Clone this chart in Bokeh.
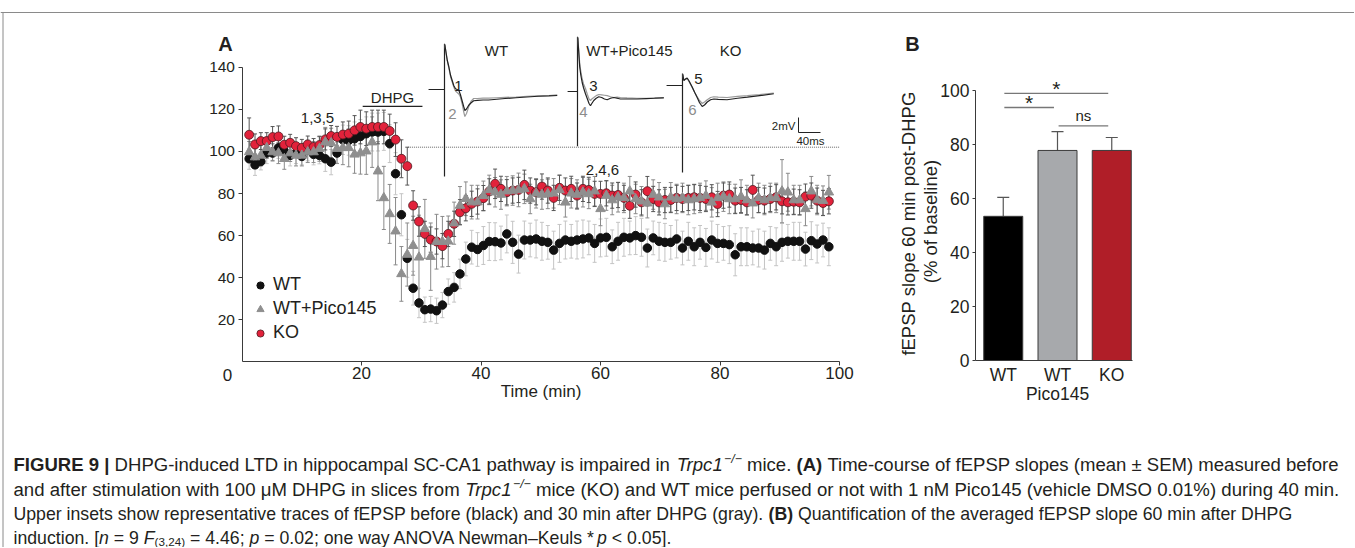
import numpy as np
from bokeh.plotting import figure
from bokeh.models import (Range1d, LinearAxis, FixedTicker, ColumnDataSource,
                          Whisker, TeeHead, Legend, LegendItem)
from bokeh.core.properties import value
from bokeh.embed import file_html
from bokeh.resources import INLINE

# ---------------- Panel A data: fEPSP slope (% of baseline) ----------------
time_min = [round(1.2 + 0.98 * i, 2) for i in range(100)]

wt_mean = [96.5, 93.6, 95.2, 99.2, 99.2, 101.7, 100.1, 98.1, 99.2, 97.6,
           100.5, 98.6, 98.1, 96.5, 94.9, 99.2, 105.5, 105.2, 106.0, 107.1,
           108.4, 109.2, 109.2, 109.5, 103.7, 89.4, 69.9, 49.2, 35.0, 28.0,
           24.8, 25.1, 24.3, 27.0, 33.4, 35.4, 41.8, 48.9, 54.5, 53.4,
           55.3, 57.2, 57.1, 56.5, 60.8, 56.8, 51.2, 57.9, 57.9, 58.4,
           57.3, 56.8, 53.1, 56.3, 57.9, 57.3, 57.9, 58.4, 58.9, 56.3,
           58.9, 59.2, 54.7, 57.3, 59.2, 58.9, 60.0, 59.2, 54.1, 58.9,
           57.3, 56.8, 56.8, 58.4, 54.1, 57.3, 54.7, 56.8, 54.4, 57.9,
           56.3, 56.3, 55.7, 50.9, 54.7, 54.7, 54.1, 54.1, 53.1, 56.3,
           54.7, 56.8, 57.3, 57.3, 57.3, 53.6, 57.6, 56.0, 57.9, 54.7]
wt_sem = [5, 5, 4, 5, 4, 5, 4, 5, 5, 4,
          5, 5, 4, 6, 6, 5, 7, 7, 8, 8,
          8, 9, 9, 9, 9, 10, 10, 9, 8, 7,
          6, 6, 6, 6, 6, 7, 7, 8, 8, 8,
          9, 9, 9, 8, 9, 10, 9, 9, 8, 9,
          9, 8, 9, 9, 9, 8, 9, 9, 8, 9,
          9, 9, 8, 9, 9, 8, 9, 9, 9, 8,
          9, 9, 8, 9, 8, 9, 9, 8, 9, 9,
          9, 8, 9, 10, 9, 9, 8, 9, 9, 8,
          9, 9, 8, 9, 9, 8, 9, 9, 8, 9]

pico_mean = [99.7, 97.3, 98.1, 101.7, 99.7, 99.2, 96.5, 99.2, 98.1, 98.1,
             99.7, 99.7, 101.3, 104.4, 104.0, 101.3, 101.7, 101.7, 98.6, 99.2,
             100.1, 104.4, 90.6, 77.9, 70.3, 62.1, 41.8, 51.0, 55.2, 49.7,
             63.2, 50.0, 57.1, 57.1, 57.3, 65.9, 74.3, 77.5, 75.9, 75.9,
             78.9, 81.7, 80.6, 79.5, 81.1, 81.4, 81.7, 82.2, 77.4, 80.1,
             79.5, 79.8, 80.1, 81.7, 75.8, 80.1, 79.5, 80.6, 79.8, 81.1,
             72.7, 79.0, 76.9, 78.2, 77.9, 81.1, 77.4, 76.3, 75.4, 79.5,
             78.2, 75.0, 78.2, 77.4, 77.9, 76.9, 77.4, 77.9, 79.0, 75.8,
             77.9, 78.5, 77.4, 77.4, 78.5, 76.9, 75.4, 77.9, 76.9, 77.9,
             77.9, 81.1, 80.6, 76.9, 76.9, 72.7, 81.1, 76.9, 76.6, 80.6]
pico_sem = [5, 4, 5, 5, 4, 5, 5, 4, 5, 5,
            5, 5, 6, 7, 7, 7, 8, 9, 9, 10,
            11, 12, 14, 15, 14, 16, 13, 15, 14, 20,
            14, 16, 13, 12, 12, 10, 9, 8, 8, 8,
            7, 7, 7, 7, 7, 7, 8, 7, 7, 7,
            7, 7, 7, 7, 7, 7, 7, 7, 7, 7,
            8, 7, 7, 7, 7, 7, 7, 7, 7, 7,
            7, 7, 7, 7, 7, 7, 7, 7, 7, 7,
            7, 7, 7, 7, 8, 7, 7, 7, 7, 7,
            7, 15, 9, 7, 7, 8, 7, 7, 7, 8]

ko_mean = [107.9, 103.3, 104.9, 104.9, 106.8, 107.1, 103.2, 104.1, 102.5, 101.7,
           103.3, 102.1, 103.0, 105.7, 107.3, 106.9, 108.0, 108.4, 110.0, 111.6,
           110.8, 111.6, 111.6, 111.6, 109.7, 105.6, 96.5, 93.0, 74.3, 66.7,
           60.8, 58.1, 57.2, 55.0, 60.8, 65.6, 71.1, 73.0, 75.1, 76.2,
           77.8, 81.0, 84.6, 82.2, 80.6, 81.4, 81.7, 84.1, 81.4, 80.6,
           83.3, 81.4, 77.9, 82.7, 81.4, 82.2, 79.0, 82.2, 81.7, 79.8,
           79.8, 80.1, 79.0, 79.3, 77.9, 74.2, 79.5, 75.8, 81.1, 77.4,
           75.8, 76.9, 76.9, 77.9, 77.4, 77.9, 78.2, 77.9, 77.4, 78.2,
           75.0, 79.0, 79.5, 76.6, 76.9, 75.8, 81.7, 76.9, 76.6, 77.4,
           78.2, 76.3, 75.8, 76.1, 75.8, 78.5, 79.0, 76.6, 75.5, 76.3]
ko_sem = [8, 5, 4, 4, 5, 5, 4, 4, 4, 4,
          4, 4, 4, 5, 5, 5, 6, 6, 7, 8,
          8, 8, 8, 8, 8, 8, 9, 9, 7, 7,
          6, 6, 6, 6, 6, 6, 6, 6, 6, 6,
          6, 6, 7, 6, 6, 6, 6, 7, 6, 6,
          6, 6, 6, 6, 6, 6, 6, 6, 6, 6,
          6, 6, 6, 6, 6, 6, 6, 6, 7, 6,
          6, 6, 6, 6, 6, 6, 6, 6, 6, 6,
          6, 6, 6, 6, 6, 6, 7, 6, 6, 6,
          6, 6, 6, 6, 6, 6, 6, 6, 6, 6]

y_ticks_a = [20, 40, 60, 80, 100, 120, 140]
x_ticks_a = [20, 40, 60, 80, 100]
dhpg_window = [20.2, 30.2]
baseline_level = 102

# representative fEPSP traces (ms after stimulus, mV relative to pre-stim baseline)
wt_ms = [0.5, 2, 5, 8, 11, 14, 17, 20, 23, 26, 29, 32, 35, 37, 40, 44, 48, 53,
         60, 70, 80, 95, 110, 130, 150, 170, 190, 205]
wt_before = [6.0, 5.3, 3.9, 3.0, 1.9, 1.2, 0.5, 0.1, 0.0, -0.1, -0.7, -1.5, -2.3, -2.8,
             -2.6, -2.1, -1.8, -1.5, -1.45, -1.4, -1.4, -1.3, -1.2, -1.1, -1.0, -0.9, -0.85, -0.8]
wt_after = [6.0, 5.3, 3.9, 2.8, 1.7, 1.0, 0.3, -0.2, -0.4, -0.6, -1.0, -1.9, -3.0, -3.6,
            -3.2, -2.3, -1.6, -1.2, -1.2, -1.15, -1.15, -1.1, -1.05, -1.0, -0.9, -0.85, -0.8, -0.7]
pico_ms = [0.5, 2, 4, 6, 8.5, 11, 14.5, 18, 21, 23.6, 26, 29.6, 34, 38.7, 44, 49, 54,
           60, 66, 72, 78, 90, 108, 125, 140, 157]
pico_before = [7.2, 5.5, 3.3, 2.2, 1.2, 0.5, -0.3, -1.0, -1.6, -1.9, -1.6, -1.2, -0.9, -0.7,
               -0.8, -1.0, -1.1, -0.9, -0.8, -0.9, -1.0, -1.0, -1.0, -0.95, -0.9, -0.84]
pico_after = [7.2, 5.8, 3.8, 2.7, 1.7, 1.0, 0.4, -0.4, -1.0, -1.2, -1.0, -0.8, -0.55, -0.4,
              -0.45, -0.5, -0.55, -0.7, -0.8, -0.75, -0.8, -0.85, -0.9, -0.9, -0.85, -0.8]
ko_ms = [0.5, 2.4, 5, 8.5, 12, 17.6, 22, 26.7, 31, 35.8, 40, 45, 51, 57, 65, 81, 100,
         118, 140, 166]
ko_before = [1.5, 0.67, 0.85, 1.0, 0.6, -0.2, -0.9, -1.6, -2.3, -2.8, -2.6, -2.2, -1.9,
             -1.8, -1.85, -1.9, -1.7, -1.56, -1.35, -1.1]
ko_after = [1.5, 0.67, 0.8, 0.9, 0.5, -0.25, -0.9, -1.5, -2.0, -2.4, -2.2, -1.9, -1.6,
            -1.5, -1.55, -1.6, -1.45, -1.35, -1.2, -1.0]
artifact_mv = {"WT": (6.1, -11.6), "WT+Pico145": (7.3, -7.3), "KO": (1.6, -11.6)}

# ---------------- Panel B data ----------------
groups = ["WT", "WT", "KO"]
bar_mean = [53.4, 77.8, 77.8]
bar_sem = [7.0, 7.0, 4.8]
bar_colors = ["#000000", "#a7a9ac", "#b01e28"]
sig_from = [1, 1, 2]
sig_to = [3, 2, 3]
sig_level = [98.9, 93.7, 86.9]
sig_text = ["*", "*", "ns"]
y_ticks_b = [0, 20, 40, 60, 80, 100]

# ---------------- caption ----------------
caption_lines = [
    [("FIGURE 9 |", "b"), (" DHPG-induced LTD in hippocampal SC-CA1 pathway is impaired in ", "r"),
     ("Trpc1", "i"), ("−/−", "sup"), (" mice. ", "r"), ("(A)", "b"),
     (" Time-course of fEPSP slopes (mean ± SEM) measured before", "r")],
    [("and after stimulation with 100 μM DHPG in slices from ", "r"), ("Trpc1", "i"),
     ("−/−", "sup"),
     (" mice (KO) and WT mice perfused or not with 1 nM Pico145 (vehicle DMSO 0.01%) during 40 min.", "r")],
    [("Upper insets show representative traces of fEPSP before (black) and 30 min after DHPG (gray). ", "r"),
     ("(B)", "b"), (" Quantification of the averaged fEPSP slope 60 min after DHPG", "r")],
    [("induction. [", "r"), ("n", "i"), (" = 9 ", "r"), ("F", "i"), ("(3,24)", "sub"),
     (" = 4.46; ", "r"), ("p", "i"), (" = 0.02; one way ANOVA Newman–Keuls *", "r"), ("p", "i"),
     (" < 0.05].", "r")],
]
caption_right = [1340, 1340, 1292, None]

# ---------------- layout constants (reference-pixel geometry) ----------------
FONT = "Liberation Sans"
INK = "#231f20"
AXC = "#3a3a3a"
W, H = 1354, 547
AX0, AXS = 241.5, 5.975     # panel A: x pixel of t=0, px per minute
AY0, AYS = 361.4, 2.105     # panel A: y pixel of 0 %, px per %
BX0, BXS = 948.5, 54.25     # panel B: x pixel of category 0, px per category
BY0, BYS = 360.0, 2.7       # panel B: y pixel of 0 %, px per %

p = figure(width=W, height=H, output_backend="svg", toolbar_location=None,
           x_axis_type=None, y_axis_type=None, min_border=0,
           x_range=Range1d(-AX0 / AXS, (W - AX0) / AXS),
           y_range=Range1d((AY0 - H) / AYS, AY0 / AYS),
           outline_line_color=None, background_fill_color="white",
           border_fill_color="white")
p.extra_x_ranges = {"px": Range1d(0, W),
                    "bx": Range1d(-BX0 / BXS, (W - BX0) / BXS)}
p.extra_y_ranges = {"py": Range1d(H, 0),
                    "by": Range1d((BY0 - H) / BYS, BY0 / BYS)}


def style_axis(ax, size, tick_out=4, standoff=3):
    ax.axis_line_color = AXC
    ax.axis_line_width = 1
    ax.major_tick_line_color = AXC
    ax.major_tick_in = 0
    ax.major_tick_out = tick_out
    ax.minor_tick_line_color = None
    ax.major_label_text_font = FONT
    ax.major_label_text_font_size = size
    ax.major_label_text_color = INK
    ax.major_label_standoff = standoff
    ax.axis_label_text_font = FONT
    ax.axis_label_text_font_style = "normal"
    ax.axis_label_text_color = INK


def txt(xs, ys, texts, size, rx="px", ry="py", color=INK, align="center",
        baseline="middle", style="normal", angle=0.0):
    p.text(x=xs, y=ys, text=texts, x_range_name=rx, y_range_name=ry,
           text_font=value(FONT), text_font_size=size, text_color=color,
           text_align=align, text_baseline=baseline, text_font_style=style,
           angle=angle)


# ---------------- Panel A ----------------
ya = LinearAxis(fixed_location=0, bounds=(0, 140), ticker=FixedTicker(ticks=y_ticks_a))
style_axis(ya, "15.5px", 4, 3)
p.add_layout(ya, "left")
xa = LinearAxis(fixed_location=0, bounds=(0, 100), ticker=FixedTicker(ticks=x_ticks_a),
                axis_label="Time (min)")
style_axis(xa, "17px", 4, 1)
xa.axis_label_text_font_size = "17px"
xa.axis_label_standoff = 0
p.add_layout(xa, "below")

t = np.array(time_min)
srcA = ColumnDataSource(dict(
    t=t,
    wt=wt_mean, wt_lo=np.array(wt_mean) - np.array(wt_sem), wt_hi=np.array(wt_mean) + np.array(wt_sem),
    pc=pico_mean, pc_lo=np.array(pico_mean) - np.array(pico_sem), pc_hi=np.array(pico_mean) + np.array(pico_sem),
    ko=ko_mean, ko_lo=np.array(ko_mean) - np.array(ko_sem), ko_hi=np.array(ko_mean) + np.array(ko_sem),
))

for key, col in (("wt", "#c4c4c4"), ("pc", "#8a8a8a"), ("ko", "#555555")):
    w = Whisker(source=srcA, base="t", lower=key + "_lo", upper=key + "_hi",
                dimension="height", line_color=col, line_width=1, level="underlay",
                upper_head=TeeHead(size=4, line_color=col, line_width=1),
                lower_head=TeeHead(size=4, line_color=col, line_width=1))
    p.add_layout(w)

r_wt = p.scatter("t", "wt", source=srcA, marker="circle", size=8.5,
                 fill_color="#111111", line_color="#111111")
r_ko = p.scatter("t", "ko", source=srcA, marker="circle", size=9,
                 fill_color="#e2223b", line_color="#4d1a1f", line_width=0.8)
r_pc = p.scatter("t", "pc", source=srcA, marker="triangle", size=9.5,
                 fill_color="#8f8f8f", line_color="#8f8f8f")

legend = Legend(items=[LegendItem(label="WT", renderers=[r_wt]),
                       LegendItem(label="WT+Pico145", renderers=[r_pc]),
                       LegendItem(label="KO", renderers=[r_ko])],
                location=(250, H - 343), padding=0, margin=0, spacing=3,
                glyph_width=20, glyph_height=18, label_height=18, label_standoff=3,
                border_line_color=None, background_fill_alpha=0,
                label_text_font=FONT, label_text_font_size="18px",
                label_text_color=INK)
p.add_layout(legend)

# DHPG application bar and dotted baseline
p.line(dhpg_window, [121.4, 121.4], line_color="#222222", line_width=1.2)
p.line([27.8, 100], [baseline_level, baseline_level], line_color="#666666",
       line_width=1, line_dash="1 1")

# inset traces
MS = 0.55 / AXS   # minutes of plot per ms of trace
MV = 7.5 / AYS    # % units of plot per mV of trace
insets = [("WT", 444, 89, wt_ms, wt_before, wt_after, 29),
          ("WT+Pico145", 577, 91, pico_ms, pico_before, pico_after, 18),
          ("KO", 682, 85, ko_ms, ko_before, ko_after, 29)]
for name, axp, ayp, ms, before, after, pre in insets:
    t0 = (axp - AX0) / AXS
    v0 = (AY0 - ayp) / AYS
    top, bot = artifact_mv[name]
    p.line([t0 - pre * MS, t0], [v0, v0], line_color="#222222", line_width=1.2)
    p.line([t0, t0], [v0 + top * MV, v0 + bot * MV], line_color="#222222", line_width=1.2)
    p.line(t0 + np.array(ms) * MS, v0 + np.array(after) * MV, line_color="#9a9a9a", line_width=1.2)
    p.line(t0 + np.array(ms) * MS, v0 + np.array(before) * MV, line_color="#222222", line_width=1.2)

# scale bar 2 mV / 40 ms
sb_t = (798 - AX0) / AXS
sb_v = (AY0 - 132) / AYS
p.line([sb_t, sb_t, sb_t + 40 * MS], [sb_v + 2 * MV, sb_v, sb_v], line_color="#222222", line_width=1)

txt([392], [97], ["DHPG"], "15px")
txt([317], [117], ["1,3,5"], "15px")
txt([602], [169], ["2,4,6"], "15px")
txt([496, 629, 730], [50, 50, 50], ["WT", "WT+Pico145", "KO"], "15px")
txt([458, 593, 698], [85, 85, 78], ["1", "3", "5"], "15px")
txt([452, 583, 692], [113, 111, 109], ["2", "4", "6"], "15px", color="#8c8c8c")
txt([795], [125], ["2mV"], "11.5px", align="right")
txt([810], [140], ["40ms"], "11.5px")
txt([227], [374], ["0"], "17px")
txt([225, 912], [43, 43], ["A", "B"], "20px", style="bold")

# ---------------- Panel B ----------------
cats = [1, 2, 3]
srcB = ColumnDataSource(dict(x=cats, top=bar_mean, color=bar_colors,
                             up=np.array(bar_mean) + np.array(bar_sem)))
p.vbar(x="x", top="top", bottom=0, width=39 / BXS, source=srcB, fill_color="color",
       line_color="#3a3a3a", line_width=1, x_range_name="bx", y_range_name="by")
p.add_layout(Whisker(source=srcB, base="x", lower="top", upper="up", dimension="height",
                     x_range_name="bx", y_range_name="by", line_color="#555555", line_width=1.2,
                     upper_head=TeeHead(size=12, line_color="#555555", line_width=1.2),
                     lower_head=None))

bya = LinearAxis(x_range_name="bx", y_range_name="by", fixed_location=(975 - BX0) / BXS,
                 bounds=(0, 100), ticker=FixedTicker(ticks=y_ticks_b))
style_axis(bya, "17.5px", 3, 3)
p.add_layout(bya, "left")
bxa = LinearAxis(x_range_name="bx", y_range_name="by", fixed_location=0,
                 bounds=((975 - BX0) / BXS, (1132 - BX0) / BXS),
                 ticker=FixedTicker(ticks=cats),
                 major_label_overrides={c: g for c, g in zip(cats, groups)})
style_axis(bxa, "17.5px", 0, 4)
p.add_layout(bxa, "below")

sx0 = [f + 0.02 for f in sig_from]
sx1 = [tt - 0.065 for tt in sig_to]
p.segment(x0=sx0, y0=sig_level, x1=sx1, y1=sig_level, x_range_name="bx", y_range_name="by",
          line_color="#777777", line_width=1.3)
mid = [(a + b) / 2 for a, b in zip(sx0, sx1)]
star_x = [m for m, s in zip(mid, sig_text) if s == "*"]
star_y = [lv + 5.0 / BYS for lv, s in zip(sig_level, sig_text) if s == "*"]
txt(star_x, star_y, ["*"] * len(star_x), "21px", rx="bx", ry="by", baseline="alphabetic")
ns_x = [m for m, s in zip(mid, sig_text) if s == "ns"]
ns_y = [lv + 10.0 / BYS for lv, s in zip(sig_level, sig_text) if s == "ns"]
txt(ns_x, ns_y, ["ns"], "15px", rx="bx", ry="by", baseline="alphabetic")
txt([2], [(BY0 - 393) / BYS], ["Pico145"], "17.5px", rx="bx", ry="by")
txt([908], [223], ["fEPSP slope 60 min post-DHPG"], "18.5px", angle=np.pi / 2)
txt([930], [221], ["(% of baseline)"], "18.5px", angle=np.pi / 2)

# ---------------- frame ----------------
p.segment(x0=[0, 2.5], y0=[12, 12], x1=[W, 2.5], y1=[12, H],
          x_range_name="px", y_range_name="py", line_color="#8a8a8a", line_width=1)

# ---------------- caption layout (Helvetica/Arial advance widths, per 1000 em) ----------------
REG = {" ": 278, "!": 278, "%": 889, "(": 333, ")": 333, "*": 389, "+": 584, ",": 278,
       "-": 333, ".": 278, "/": 278, ":": 278, ";": 278, "<": 584, "=": 584, ">": 584,
       "[": 278, "]": 278, "|": 260, "±": 584, "μ": 576, "–": 556, "−": 584,
       "A": 667, "B": 667, "C": 722, "D": 722, "E": 667, "F": 611, "G": 778, "H": 722,
       "I": 278, "J": 500, "K": 667, "L": 556, "M": 833, "N": 722, "O": 778, "P": 667,
       "Q": 778, "R": 722, "S": 667, "T": 611, "U": 722, "V": 667, "W": 944, "X": 667,
       "Y": 667, "Z": 611, "a": 556, "b": 556, "c": 500, "d": 556, "e": 556, "f": 278,
       "g": 556, "h": 556, "i": 222, "j": 222, "k": 500, "l": 222, "m": 833, "n": 556,
       "o": 556, "p": 556, "q": 556, "r": 333, "s": 500, "t": 278, "u": 556, "v": 500,
       "w": 722, "x": 500, "y": 500, "z": 500}
BOLD = dict(REG)
BOLD.update({"A": 722, "B": 722, "C": 722, "E": 667, "F": 611, "G": 778, "I": 278,
             "K": 722, "L": 611, "R": 722, "U": 722, "|": 280, "(": 333, ")": 333})
CAP_LEFT = 13
cap_y = [464, 489, 513, 537]
SMALL = 0.66


def em_width(s, style):
    table = BOLD if style == "b" else REG
    scale = SMALL if style in ("sup", "sub") else 1.0
    return sum(table.get(ch, 556) for ch in s) / 1000.0 * scale


style_props = {"r": (1.0, "normal", 0), "b": (1.0, "bold", 0), "i": (1.0, "italic", 0),
               "sup": (SMALL, "italic", -6), "sub": (SMALL, "normal", 4)}
line_sizes = []
for li, line in enumerate(caption_lines):
    right = caption_right[li]
    if right is None:
        line_sizes.append(line_sizes[-1])
    else:
        line_sizes.append((right - CAP_LEFT) / sum(em_width(s, st) for s, st in line))

for li, line in enumerate(caption_lines):
    size = line_sizes[li]
    x = CAP_LEFT
    for s, st in line:
        lead = len(s) - len(s.lstrip(" "))
        xs = x + em_width(s[:lead], st) * size
        if s.strip():
            scale, fstyle, dy = style_props[st]
            txt([xs], [cap_y[li] + dy], [s.strip()], "%.2fpx" % (size * scale),
                align="left", style=fstyle)
        x += em_width(s, st) * size

with open("out.html", "w") as f:
    f.write(file_html(p, INLINE))
